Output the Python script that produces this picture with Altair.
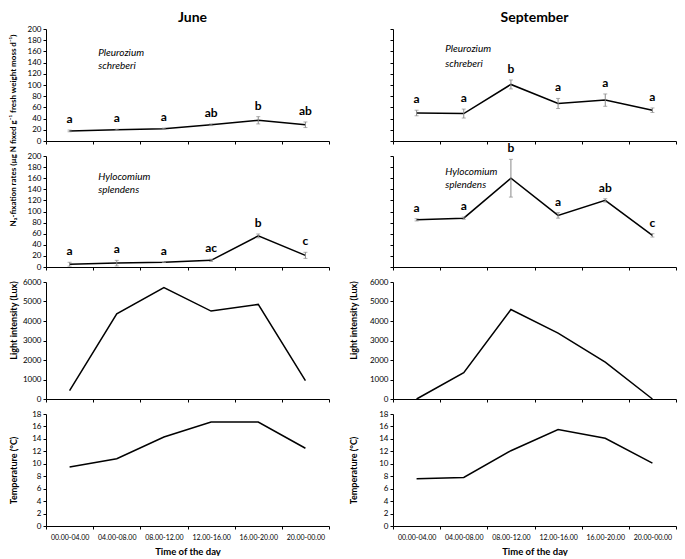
import altair as alt
import pandas as pd

times = ["00.00-04.00", "04.00-08.00", "08.00-12.00", "12.00-16.00", "16.00-20.00", "20.00-00.00"]

june_pleuro = [18, 20, 22, 29, 37, 29]
june_pleuro_err = [1.5, 1, 1, 1.5, 6.5, 5]
june_pleuro_let = ["a", "a", "a", "ab", "b", "ab"]

sep_pleuro = [50, 49, 101, 67, 73, 55]
sep_pleuro_err = [5, 8, 8, 9, 11, 4]
sep_pleuro_let = ["a", "a", "b", "a", "a", "a"]

june_hylo = [5, 7, 8.5, 12, 56, 21]
june_hylo_err = [3.5, 5, 0.5, 2, 3.5, 5.5]
june_hylo_let = ["a", "a", "a", "ac", "b", "c"]

sep_hylo = [85, 88, 160, 93, 120, 57]
sep_hylo_err = [2, 2, 34, 5, 3, 3]
sep_hylo_let = ["a", "a", "b", "a", "ab", "c"]

june_light = [430, 4370, 5710, 4510, 4850, 940]
sep_light = [0, 1350, 4590, 3380, 1890, 0]

june_temp = [9.5, 10.8, 14.3, 16.7, 16.7, 12.5]
sep_temp = [7.6, 7.8, 12.1, 15.5, 14.1, 10.1]

species_pleuro = ["Pleurozium", "schreberi"]
species_hylo = ["Hylocomium", "splendens"]

FONT = "Lato"
W = 283
H1, H2, H3, H4 = 112, 111, 117, 112

N2_TITLE = "N\u2082-fixation rates (\u00b5g N fixed g\u207b\u00b9 fresh weight moss d\u207b\u00b9)"


def xenc(show_labels=False):
    if show_labels:
        ax = alt.Axis(labels=True, title="Time of the day", tickBand="extent", tickSize=3,
                      labelAngle=0, labelFontSize=7, labelPadding=4, labelOverlap=False,
                      labelFlush=False, titleFontSize=9.5, titlePadding=6)
    else:
        ax = alt.Axis(labels=False, title=None, tickBand="extent", tickSize=3)
    return alt.X("time:N", sort=times,
                 scale=alt.Scale(type="band", paddingInner=0, paddingOuter=0, domain=times),
                 axis=ax)


def rate_panel(vals, errs, lets, species, sp_vals, height, left, title_kw):
    df = pd.DataFrame({"time": times, "v": vals,
                       "lo": [v - e for v, e in zip(vals, errs)],
                       "hi": [v + e for v, e in zip(vals, errs)],
                       "let": lets})
    sp = pd.DataFrame({"time": [times[1], times[1]], "v": sp_vals, "t": species})
    yax = alt.Axis(values=list(range(0, 201, 20)), tickSize=3, labels=left, labelOverlap=False,
                   format="d", title=N2_TITLE if title_kw else "", **(title_kw or {}))
    ysc = alt.Scale(domain=[0, 200])

    def Y(f):
        return alt.Y(f, scale=ysc, axis=yax, title=N2_TITLE if title_kw else "")

    base = alt.Chart(df)
    line = base.mark_line(color="black", strokeWidth=1.5).encode(x=xenc(), y=Y("v:Q"))
    rule = base.mark_rule(color="#8a8a8a", strokeWidth=1).encode(
        x=xenc(), y=Y("lo:Q"), y2="hi:Q")
    cap_lo = base.mark_tick(color="#8a8a8a", size=4, thickness=1).encode(x=xenc(), y=Y("lo:Q"))
    cap_hi = base.mark_tick(color="#8a8a8a", size=4, thickness=1).encode(x=xenc(), y=Y("hi:Q"))
    txt = base.mark_text(baseline="bottom", dy=-4, fontWeight="bold", fontSize=12,
                         font=FONT, color="black").encode(x=xenc(), y=Y("hi:Q"), text="let:N")
    sp_txt = alt.Chart(sp).mark_text(align="left", baseline="middle", fontStyle="italic",
                                     fontSize=10, font=FONT, dx=5, color="black").encode(
        x=alt.X("time:N", bandPosition=0), y=Y("v:Q"), text="t:N")
    return alt.layer(line, rule, cap_lo, cap_hi, txt, sp_txt).properties(width=W, height=height)


def simple_panel(vals, ymax, step, title, height, show_x, title_kw):
    df = pd.DataFrame({"time": times, "v": vals})
    yax = alt.Axis(values=list(range(0, ymax + 1, step)), tickSize=3, title=title,
                   labelOverlap=False, format="d", **title_kw)
    return alt.Chart(df).mark_line(color="black", strokeWidth=1.5).encode(
        x=xenc(show_x),
        y=alt.Y("v:Q", scale=alt.Scale(domain=[0, ymax]), axis=yax),
    ).properties(width=W, height=height)


left_title = dict(titleX=-33, titleBaseline="middle", titleAlign="center")
right_title = dict(titleX=-40, titleBaseline="middle", titleAlign="center")

p1L = rate_panel(june_pleuro, june_pleuro_err, june_pleuro_let, species_pleuro, [158, 134],
                 H1, True, dict(titleX=-33, titleY=101, titleBaseline="middle",
                                titleAlign="center", titleFontSize=8)).properties(
    title=alt.Title("June", fontSize=14, font=FONT, fontWeight="bold", anchor="middle",
                    dx=5, offset=0, frame="group"))
p1R = rate_panel(sep_pleuro, sep_pleuro_err, sep_pleuro_let, species_pleuro, [164, 137],
                 H1, False, None).properties(
    title=alt.Title("September", fontSize=14, font=FONT, fontWeight="bold", anchor="middle",
                    offset=4, frame="group"))
p2L = rate_panel(june_hylo, june_hylo_err, june_hylo_let, species_hylo, [162, 139], H2, True, None)
p2R = rate_panel(sep_hylo, sep_hylo_err, sep_hylo_let, species_hylo, [171, 148], H2, False, None)
p3L = simple_panel(june_light, 6000, 1000, "Light intensity (Lux)", H3, False,
                   dict(left_title, titleY=38))
p3R = simple_panel(sep_light, 6000, 1000, "Light intensity (Lux)", H3, False,
                   dict(right_title, titleY=38))
p4L = simple_panel(june_temp, 18, 2, "Temperature (\u00b0C)", H4, True, left_title)
p4R = simple_panel(sep_temp, 18, 2, "Temperature (\u00b0C)", H4, True, right_title)

chart = alt.concat(
    p1L, p1R, p2L, p2R, p3L, p3R, p4L, p4R,
    columns=2, spacing={"row": 15, "column": 64}, bounds="flush",
    padding={"top": 2, "left": 0, "right": 0, "bottom": 0},
).configure_axis(
    grid=False, domainColor="black", tickColor="black", domainWidth=1, tickWidth=1,
    labelFont=FONT, labelFontSize=8, labelColor="black", labelPadding=2,
    titleFont=FONT, titleFontWeight="bold", titleFontSize=9, titleColor="black",
).configure_view(stroke=None)

chart.save("out.html", embed_options={"renderer": "svg", "actions": False})
